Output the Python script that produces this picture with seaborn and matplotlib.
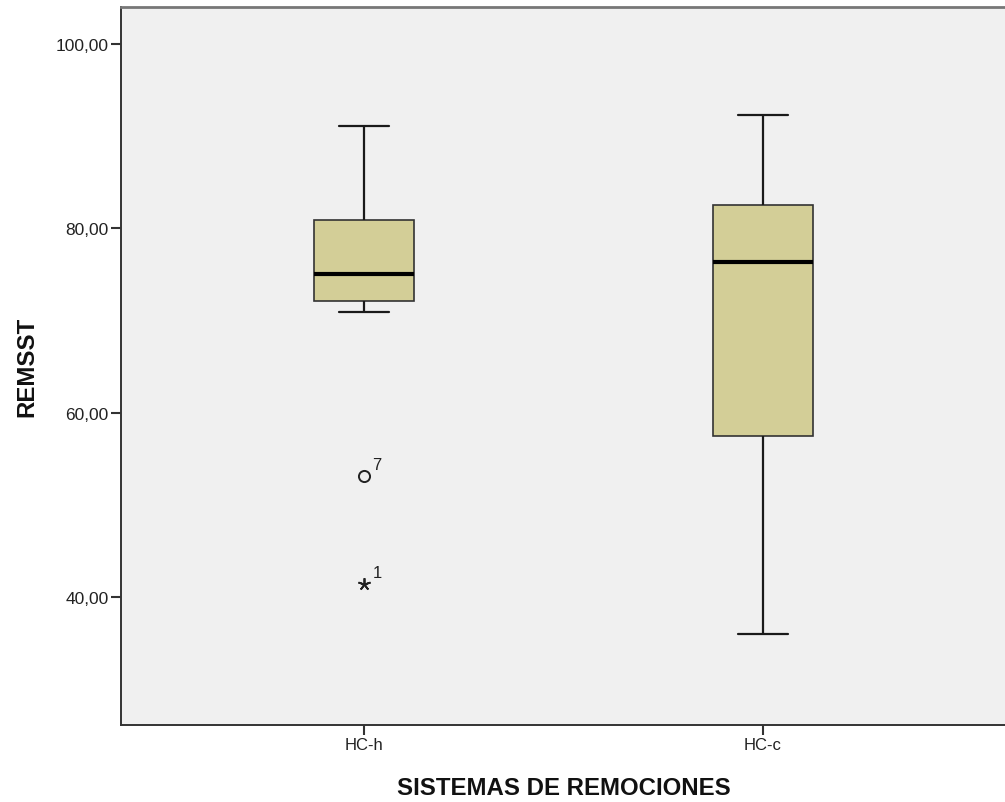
import numpy as np
import pandas as pd
import seaborn as sns
import matplotlib.pyplot as plt

# REMSST observations per removal system, listed by case number
hc_h_cases = [1, 2, 3, 4, 5, 6, 7, 8, 9, 10, 11, 12, 13]
hc_h_values = [41.4, 72.1, 75.0, 80.9, 70.9, 91.1, 53.1, 73.0, 77.0, 84.5, 74.2, 79.3, 87.6]

hc_c_cases = [14, 15, 16, 17, 18]
hc_c_values = [57.5, 92.3, 36.0, 82.5, 76.3]

categories = ["HC-h", "HC-c"]
y_ticks = [40, 60, 80, 100]

df = pd.DataFrame({
    "sistema": ["HC-h"] * len(hc_h_values) + ["HC-c"] * len(hc_c_values),
    "REMSST": hc_h_values + hc_c_values,
    "caso": hc_h_cases + hc_c_cases,
})

sns.set_style("white")
plt.rcParams["font.family"] = ["Liberation Sans", "DejaVu Sans"]

fig = plt.figure(figsize=(10.05, 8.03), dpi=100)
ax = fig.add_axes([0.1204, 0.0959, 0.8806, 0.894])
ax.set_facecolor("#F0F0F0")

box_color = "#D3CE97"
sns.boxplot(
    data=df, x="sistema", y="REMSST", order=categories,
    color=box_color, width=0.25, whis=1.5, showfliers=False,
    linecolor="#1a1a1a", linewidth=1.4,
    boxprops=dict(facecolor=box_color, edgecolor="#333333", linewidth=1.2),
    medianprops=dict(color="black", linewidth=3),
    whiskerprops=dict(color="#1a1a1a", linewidth=1.6),
    capprops=dict(color="#1a1a1a", linewidth=1.6),
    ax=ax,
)

# Outliers (beyond 1.5 IQR) as circles, extremes (beyond 3 IQR) as stars
for i, cat in enumerate(categories):
    sub = df[df["sistema"] == cat]
    q1, q3 = np.percentile(sub["REMSST"], [25, 75])
    iqr = q3 - q1
    for _, row in sub.iterrows():
        v = row["REMSST"]
        dist = max(q1 - v, v - q3)
        if dist > 3 * iqr:
            ax.plot(i, v, marker=(5, 2, 0), markersize=9, color="#222222",
                    markeredgewidth=1.3, linestyle="none")
        elif dist > 1.5 * iqr:
            ax.plot(i, v, marker="o", markersize=8, markerfacecolor="none",
                    markeredgecolor="#222222", markeredgewidth=1.4, linestyle="none")
        else:
            continue
        ax.annotate(str(row["caso"]), xy=(i, v), xytext=(6, 5),
                    textcoords="offset points", fontsize=12, color="#222222")

ax.set_xlim(-0.609, 1.609)
ax.set_ylim(26.1, 104.0)
ax.set_yticks(y_ticks)
ax.set_yticklabels([f"{t:.2f}".replace(".", ",") for t in y_ticks])

ax.tick_params(axis="both", direction="out", length=7, width=1.5,
               color="#333333", labelsize=12.5, labelcolor="#222222", pad=2)
ax.tick_params(axis="x", labelsize=12, length=7)
ax.tick_params(left=True, bottom=True)

for side in ["left", "bottom"]:
    ax.spines[side].set_color("#333333")
    ax.spines[side].set_linewidth(1.4)
ax.spines["top"].set_color("#777777")
ax.spines["top"].set_linewidth(2)
ax.spines["right"].set_visible(False)

ax.set_xlabel("SISTEMAS DE REMOCIONES", fontsize=17.3, fontweight="bold",
              labelpad=17, color="#111111")
ax.set_ylabel("REMSST", fontsize=17.3, fontweight="bold", labelpad=12,
              color="#111111")

fig.savefig("out.png", dpi=100, facecolor="white")
